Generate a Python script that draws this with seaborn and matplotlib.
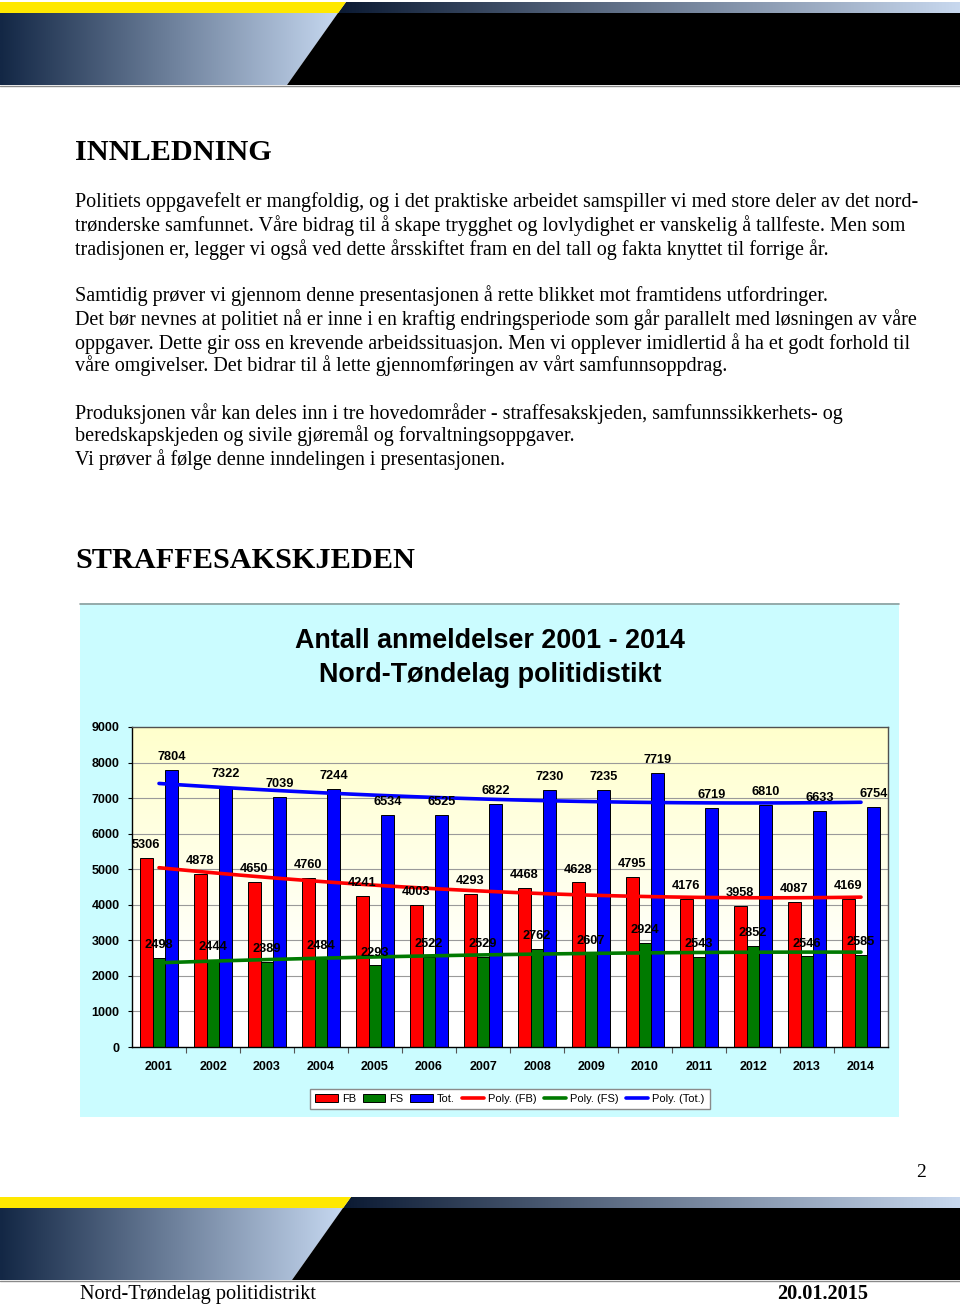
import numpy as np
import pandas as pd
import matplotlib
matplotlib.use("Agg")
import matplotlib.pyplot as plt
import seaborn as sns
from matplotlib.patches import Polygon, Patch
from matplotlib.lines import Line2D

# ---------------- data ----------------
years = ["2001", "2002", "2003", "2004", "2005", "2006", "2007",
         "2008", "2009", "2010", "2011", "2012", "2013", "2014"]
fb = [5306, 4878, 4650, 4760, 4241, 4003, 4293, 4468, 4628, 4795, 4176, 3958, 4087, 4169]
fs = [2498, 2444, 2389, 2484, 2293, 2522, 2529, 2762, 2607, 2924, 2543, 2852, 2546, 2585]
tot = [7804, 7322, 7039, 7244, 6534, 6525, 6822, 7230, 7235, 7719, 6719, 6810, 6633, 6754]
series_names = ["FB", "FS", "Tot."]
trend_names = ["Poly. (FB)", "Poly. (FS)", "Poly. (Tot.)"]
y_ticks = [0, 1000, 2000, 3000, 4000, 5000, 6000, 7000, 8000, 9000]

title_lines = ["Antall anmeldelser 2001 - 2014", "Nord-Tøndelag politidistikt"]
heading1 = "INNLEDNING"
heading2 = "STRAFFESAKSKJEDEN"
body_lines = [
    "Politiets oppgavefelt er mangfoldig, og i det praktiske arbeidet samspiller vi med store deler av det nord-",
    "trønderske samfunnet. Våre bidrag til å skape trygghet og lovlydighet er vanskelig å tallfeste. Men som",
    "tradisjonen er, legger vi også ved dette årsskiftet fram en del tall og fakta knyttet til forrige år.",
    "Samtidig prøver vi gjennom denne presentasjonen å rette blikket mot framtidens utfordringer.",
    "Det bør nevnes at politiet nå er inne i en kraftig endringsperiode som går parallelt med løsningen av våre",
    "oppgaver. Dette gir oss en krevende arbeidssituasjon. Men vi opplever imidlertid å ha et godt forhold til",
    "våre omgivelser. Det bidrar til å lette gjennomføringen av vårt samfunnsoppdrag.",
    "Produksjonen vår kan deles inn i tre hovedområder - straffesakskjeden, samfunnssikkerhets- og",
    "beredskapskjeden og sivile gjøremål og forvaltningsoppgaver.",
    "Vi prøver å følge denne inndelingen i presentasjonen.",
]
footer_left = "Nord-Trøndelag politidistrikt"
footer_right = "20.01.2015"
page_number = "2"

# ---------------- style ----------------
sns.set_theme(style="white")
plt.rcParams["font.family"] = ["Liberation Sans", "DejaVu Sans"]
plt.rcParams["text.color"] = "black"
plt.rcParams["xtick.color"] = "black"
plt.rcParams["ytick.color"] = "black"

W, H = 960, 1304
fig = plt.figure(figsize=(W / 100, H / 100), dpi=100)
fig.patch.set_facecolor("white")

page = fig.add_axes([0, 0, 1, 1], zorder=0)
page.set_xlim(0, W)
page.set_ylim(H, 0)
page.axis("off")


def hgrad(x0, x1, y0, y1, c0, c1, clip):
    c0 = np.array(matplotlib.colors.to_rgb(c0))
    c1 = np.array(matplotlib.colors.to_rgb(c1))
    t = np.linspace(0, 1, 256)[None, :, None]
    img = c0 + (c1 - c0) * t
    im = page.imshow(img, extent=[x0, x1, y1, y0], aspect="auto", zorder=1, interpolation="bilinear")
    im.set_clip_path(clip)


def banner(oy, shift):
    def sx(y):
        return 346 + shift - (y - 2) * (59.0 / 83.0)
    page.add_patch(Polygon([(0, oy + 2), (sx(2), oy + 2), (sx(13), oy + 13), (0, oy + 13)],
                           closed=True, facecolor="#FFE800", edgecolor="none", zorder=2))
    p = Polygon([(sx(2), oy + 2), (W, oy + 2), (W, oy + 13), (sx(13), oy + 13)],
                closed=True, facecolor="none", edgecolor="none", transform=page.transData)
    page.add_patch(p)
    hgrad(sx(13), W, oy + 2, oy + 13, "#0B1A33", "#C8D8EE", p)
    p2 = Polygon([(0, oy + 13), (sx(13), oy + 13), (sx(85), oy + 85), (0, oy + 85)],
                 closed=True, facecolor="none", edgecolor="none", transform=page.transData)
    page.add_patch(p2)
    hgrad(0, sx(13), oy + 13, oy + 85, "#132745", "#C6D8F0", p2)
    page.add_patch(Polygon([(sx(13), oy + 13), (W, oy + 13), (W, oy + 85), (sx(85), oy + 85)],
                           closed=True, facecolor="black", edgecolor="none", zorder=2))
    page.plot([0, W], [oy + 85.5, oy + 85.5], color="#8A8A8A", lw=1, zorder=3)


banner(0, 0)
banner(1195, 5)

serif = ["Liberation Serif", "DejaVu Serif"]
page.text(75, 160, heading1, family=serif, fontsize=21.8, fontweight="bold", va="baseline", color="black")
page.text(75, 568, heading2, family=serif, fontsize=21.8, fontweight="bold", va="baseline", color="black")
body_y = [207.5, 231.5, 255.5, 301.5, 325.5, 348.5, 371.5, 418.5, 441.5, 465.5]
for yb, s in zip(body_y, body_lines):
    page.text(75, yb, s, family=serif, fontsize=14.5, va="baseline", color="black")
page.text(916, 1177, page_number, family=serif, fontsize=14, va="baseline")
page.text(80, 1299, footer_left, family=serif, fontsize=14.6, va="baseline")
page.text(868, 1299, footer_right, family=serif, fontsize=14.6, fontweight="bold", va="baseline", ha="right")

# chart background box
page.add_patch(plt.Rectangle((80, 603), 819, 514, facecolor="#CBFCFF", edgecolor="none", zorder=1))
page.plot([80, 899], [603.5, 603.5], color="#8C9C9C", lw=1.2, zorder=2)
page.text(490, 647.5, title_lines[0], fontsize=19.4, fontweight="bold", ha="center", va="baseline", color="black")
page.text(490, 681.5, title_lines[1], fontsize=19.4, fontweight="bold", ha="center", va="baseline", color="black")

# ---------------- chart ----------------
L, R, T, B = 132, 888, 727, 1047
ax = fig.add_axes([L / W, 1 - B / H, (R - L) / W, (B - T) / H], zorder=2)

df = pd.DataFrame({
    "year": years * 3,
    "value": fb + fs + tot,
    "series": [series_names[0]] * len(years) + [series_names[1]] * len(years) + [series_names[2]] * len(years),
})
colors = ["#FF0000", "#007A00", "#0000FF"]
sns.barplot(data=df, x="year", y="value", hue="series", palette=colors, width=0.72, gap=0,
            edgecolor="black", linewidth=0.7, saturation=1, legend=False, ax=ax, zorder=2)

xpos = np.arange(len(years))
for vals, c in zip([fb, fs, tot], colors):
    sns.regplot(x=xpos, y=np.array(vals, dtype=float), order=2, ci=None, scatter=False,
                line_kws=dict(color=c, lw=2.6, zorder=4), ax=ax, truncate=True)

for cont in ax.containers:
    ax.bar_label(cont, padding=5, fontsize=9.2, fontweight="bold", color="black", zorder=5)

# plot area gradient
grad_n = 256
yy = np.linspace(9000, 0, grad_n)
t = np.clip((yy - 2000) / 7000.0, 0, 1)[:, None, None]
top_c = np.array([1.0, 1.0, 0.80])
img = np.ones((grad_n, 1, 3)) + (top_c - 1.0) * t
ax.imshow(img, extent=[-0.5, len(years) - 0.5, 0, 9000], aspect="auto", zorder=0)

ax.set_xlim(-0.5, len(years) - 0.5)
ax.set_ylim(0, 9000)
ax.set_yticks(y_ticks)
ax.set_yticklabels([str(v) for v in y_ticks], fontsize=9, fontweight="bold", color="black")
ax.set_xticks(xpos)
ax.set_xticklabels(years, fontsize=9, fontweight="bold", color="black")
ax.set_xticks(np.arange(0.5, len(years) - 0.5, 1), minor=True)
ax.tick_params(axis="x", which="major", length=0, pad=10)
ax.tick_params(axis="x", which="minor", length=4, width=0.8, color="#555555", direction="out", bottom=True)
ax.tick_params(axis="y", length=3, width=0.8, color="black", direction="out", left=True, pad=6)
ax.set_xlabel("")
ax.set_ylabel("")
ax.grid(False)
for yv in y_ticks[1:-1]:
    ax.axhline(yv, color="#9A9A9A", lw=0.8, zorder=1)
for side in ["top", "right"]:
    ax.spines[side].set_color("#505050")
    ax.spines[side].set_linewidth(1.0)
for side in ["left", "bottom"]:
    ax.spines[side].set_color("black")
    ax.spines[side].set_linewidth(1.0)

handles = [Patch(facecolor=c, edgecolor="black", linewidth=0.7) for c in colors] + \
          [Line2D([0], [0], color=c, lw=2.6) for c in colors]
labels = series_names + trend_names
leg = fig.legend(handles, labels, loc="center", bbox_to_anchor=(510 / W, 1 - 1099 / H), ncol=6,
                 frameon=True, fancybox=False, edgecolor="#8A8A8A", facecolor="white", framealpha=1,
                 fontsize=8, handlelength=2.0, handleheight=0.7, handletextpad=0.4,
                 columnspacing=0.6, borderpad=0.45)
leg.set_zorder(6)
for txt in leg.get_texts():
    txt.set_color("black")

fig.savefig("out.png", dpi=100, facecolor="white")
